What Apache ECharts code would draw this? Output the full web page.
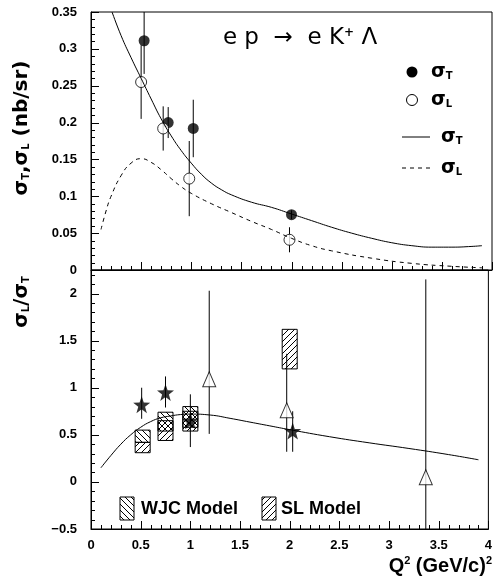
<!DOCTYPE html>
<html>
<head>
<meta charset="utf-8">
<script src="https://cdn.jsdelivr.net/npm/echarts@6/dist/echarts.min.js"></script>
<style>
  html, body { margin: 0; padding: 0; background: #fff; }
  #main { width: 495px; height: 586px; }
</style>
</head>
<body>
<div id="main"></div>
<script>
// top panel: sigma_T / sigma_L measurements (nb/sr)
var tQ = [0.53, 0.77, 1.02, 2.0];
var tVal = [0.311, 0.200, 0.192, 0.075];
var tErr = [0.045, 0.021, 0.039, 0.006];
var lQ = [0.50, 0.72, 0.98, 1.98];
var lVal = [0.255, 0.192, 0.124, 0.041];
var lErr = [0.050, 0.030, 0.051, 0.017];

// model curves, top panel
var curveTQ = [0.21, 0.3, 0.4, 0.5, 0.6, 0.7, 0.8, 0.9, 1.0, 1.1, 1.2, 1.3, 1.4, 1.6, 1.8, 2.0, 2.2, 2.4, 2.6, 2.8, 3.0, 3.2, 3.4, 3.6, 3.8, 3.9];
var curveT = [0.35, 0.318, 0.288, 0.260, 0.232, 0.205, 0.182, 0.162, 0.145, 0.130, 0.118, 0.109, 0.102, 0.092, 0.085, 0.076, 0.067, 0.058, 0.050, 0.043, 0.037, 0.033, 0.031, 0.031, 0.032, 0.033];
var curveLQ = [0.1, 0.15, 0.2, 0.3, 0.4, 0.5, 0.6, 0.7, 0.8, 0.9, 1.0, 1.2, 1.4, 1.6, 1.8, 2.0, 2.2, 2.4, 2.8, 3.2, 3.6, 3.9];
var curveL = [0.055, 0.080, 0.100, 0.128, 0.145, 0.151, 0.146, 0.136, 0.124, 0.113, 0.104, 0.090, 0.078, 0.066, 0.055, 0.043, 0.033, 0.026, 0.016, 0.009, 0.005, 0.003];

// bottom panel: ratio sigma_L / sigma_T
var starQ = [0.51, 0.75, 1.0, 2.03];
var starVal = [0.82, 0.95, 0.65, 0.54];
var starLo = [0.67, 0.79, 0.37, 0.32];
var starHi = [1.00, 1.12, 0.93, 0.75];
var triQ = [1.19, 1.97, 3.37];
var triVal = [1.09, 0.76, 0.05];
var triLo = [0.51, 0.32, -0.60];
var triHi = [2.03, 1.36, 2.15];
var wjcQ = [0.52, 0.75, 1.0];
var wjcLo = [0.42, 0.54, 0.58];
var wjcHi = [0.55, 0.74, 0.80];
var slQ = [0.52, 0.75, 1.0, 2.0];
var slLo = [0.31, 0.44, 0.54, 1.20];
var slHi = [0.42, 0.65, 0.75, 1.62];
var ratioQ = [0.1, 0.2, 0.3, 0.4, 0.5, 0.6, 0.7, 0.8, 0.9, 1.0, 1.2, 1.4, 1.6, 1.8, 2.0, 2.4, 2.8, 3.2, 3.6, 3.9];
var ratio = [0.15, 0.28, 0.40, 0.50, 0.58, 0.64, 0.68, 0.70, 0.715, 0.72, 0.71, 0.675, 0.635, 0.595, 0.555, 0.48, 0.415, 0.355, 0.29, 0.235];

// tick positions (every 5th one is a major tick)
var xTicks = [], yTopTicks = [], yBotTicks = [];
for (var i = 0; i <= 40; i++) xTicks.push(i / 10);
for (var j = 0; j <= 35; j++) yTopTicks.push(j / 100);
for (var k = 0; k <= 27; k++) yBotTicks.push(Math.round((-0.5 + k / 10) * 10) / 10);

var font = 'Liberation Sans';
var STAR = 'path://M0,-10L2.35,-3.24L9.51,-3.09L3.8,1.24L5.88,8.09L0,4L-5.88,8.09L-3.8,1.24L-9.51,-3.09L-2.35,-3.24Z';

function zip(a, b, c) {
  return a.map(function (v, i) { return c ? [v, b[i], c[i]] : [v, b[i]]; });
}

function hatch(slash) {
  var c = document.createElement('canvas');
  c.width = 6; c.height = 6;
  var g = c.getContext('2d');
  g.strokeStyle = '#000';
  g.lineWidth = 1;
  g.beginPath();
  if (slash) {
    g.moveTo(0, 6); g.lineTo(6, 0);
    g.moveTo(-1, 1); g.lineTo(1, -1);
    g.moveTo(5, 7); g.lineTo(7, 5);
  } else {
    g.moveTo(0, 0); g.lineTo(6, 6);
    g.moveTo(-1, 5); g.lineTo(1, 7);
    g.moveTo(5, -1); g.lineTo(7, 1);
  }
  g.stroke();
  return { image: c, repeat: 'repeat' };
}
var wjcFill = hatch(false);
var slFill = hatch(true);

function errBar(params, api) {
  var p1 = api.coord([api.value(0), api.value(1)]);
  var p2 = api.coord([api.value(0), api.value(2)]);
  return {
    type: 'line',
    shape: { x1: p1[0], y1: p1[1], x2: p2[0], y2: p2[1] },
    style: { stroke: '#000', lineWidth: 1 }
  };
}

function boxItem(fill) {
  return function (params, api) {
    var lo = api.coord([api.value(0), api.value(1)]);
    var hi = api.coord([api.value(0), api.value(2)]);
    return {
      type: 'rect',
      shape: { x: lo[0] - 7.5, y: hi[1], width: 15, height: lo[1] - hi[1] },
      style: { fill: fill, stroke: '#000', lineWidth: 1 }
    };
  };
}

// inward ticks along the x axis, placed with the axis scale
function xTick(base) {
  return function (params, api) {
    var p = api.coord([api.value(0), base]);
    var len = params.dataIndex % 5 === 0 ? 8 : 4;
    var x = Math.round(p[0]) + 0.5;
    return { type: 'line', shape: { x1: x, y1: p[1], x2: x, y2: p[1] - len }, style: { stroke: '#000', lineWidth: 1 } };
  };
}

// inward ticks along the y axis
function yTick(params, api) {
  var p = api.coord([0, api.value(1)]);
  var len = params.dataIndex % 5 === 0 ? 8 : 4;
  var y = Math.round(p[1]) + 0.5;
  return { type: 'line', shape: { x1: p[0], y1: y, x2: p[0] + len, y2: y }, style: { stroke: '#000', lineWidth: 1 } };
}

var lineStyle = { color: '#000', width: 1 };

function xAx(idx) {
  return {
    type: 'value', gridIndex: idx, min: 0, max: 4, interval: 0.5,
    axisLine: { show: true, onZero: false, lineStyle: lineStyle },
    axisTick: { show: false },
    minorTick: { show: false },
    splitLine: { show: false },
    axisLabel: { show: idx === 1, color: '#000', fontFamily: font, fontWeight: 'bold', fontSize: 13, margin: 10 }
  };
}

function yAx(idx, min, max, interval) {
  return {
    type: 'value', gridIndex: idx, min: min, max: max, interval: interval,
    axisLine: { show: true, onZero: false, lineStyle: lineStyle },
    axisTick: { show: false },
    minorTick: { show: false },
    splitLine: { show: false },
    axisLabel: {
      color: '#000', fontFamily: font, fontWeight: 'bold', fontSize: 13, margin: 14,
      showMaxLabel: idx === 0,
      formatter: function (v) { return String(v).replace('-', '\u2212'); }
    }
  };
}

var chart = echarts.init(document.getElementById('main'));

var sig = { fontFamily: 'DejaVu Sans', fontWeight: 'bold', fontSize: 19, fill: '#000' };
var sub = { fontFamily: 'DejaVu Sans', fontWeight: 'bold', fontSize: 10, padding: [9, 0, 0, 0] };

var option = {
  animation: false,
  backgroundColor: '#fff',
  grid: [
    { left: 91, right: 3, top: 12, height: 258, show: true, borderColor: '#000', borderWidth: 1 },
    { left: 91, right: 3, top: 270, height: 259, show: true, borderColor: '#000', borderWidth: 1 }
  ],
  xAxis: [xAx(0), xAx(1)],
  yAxis: [yAx(0, 0, 0.35, 0.05), yAx(1, -0.5, 2.25, 0.5)],
  series: [
    // axis ticks
    { type: 'custom', xAxisIndex: 0, yAxisIndex: 0, renderItem: xTick(0), data: xTicks.map(function (v) { return [v, 0]; }) },
    { type: 'custom', xAxisIndex: 1, yAxisIndex: 1, renderItem: xTick(-0.5), data: xTicks.map(function (v) { return [v, -0.5]; }) },
    { type: 'custom', xAxisIndex: 0, yAxisIndex: 0, renderItem: yTick, data: yTopTicks.map(function (v) { return [0, v]; }) },
    { type: 'custom', xAxisIndex: 1, yAxisIndex: 1, renderItem: yTick, data: yBotTicks.map(function (v) { return [0, v]; }) },

    // top panel
    { type: 'line', xAxisIndex: 0, yAxisIndex: 0, data: zip(curveTQ, curveT), smooth: true, showSymbol: false,
      lineStyle: { color: '#000', width: 1 } },
    { type: 'line', xAxisIndex: 0, yAxisIndex: 0, data: zip(curveLQ, curveL), smooth: true, showSymbol: false,
      lineStyle: { color: '#000', width: 1, type: [4, 4] } },
    { type: 'custom', xAxisIndex: 0, yAxisIndex: 0, clip: true, renderItem: errBar,
      data: tQ.map(function (q, i) { return [q, tVal[i] - tErr[i], tVal[i] + tErr[i]]; }) },
    { type: 'custom', xAxisIndex: 0, yAxisIndex: 0, clip: true, renderItem: errBar,
      data: lQ.map(function (q, i) { return [q, lVal[i] - lErr[i], lVal[i] + lErr[i]]; }) },
    { type: 'scatter', xAxisIndex: 0, yAxisIndex: 0, data: zip(tQ, tVal), symbol: 'circle', symbolSize: 11,
      itemStyle: { color: '#000' } },
    { type: 'scatter', xAxisIndex: 0, yAxisIndex: 0, data: zip(lQ, lVal), symbol: 'circle', symbolSize: 11,
      itemStyle: { color: '#fff', borderColor: '#000', borderWidth: 1 } },

    // bottom panel
    { type: 'line', xAxisIndex: 1, yAxisIndex: 1, data: zip(ratioQ, ratio), smooth: true, showSymbol: false,
      lineStyle: { color: '#000', width: 1 } },
    { type: 'custom', xAxisIndex: 1, yAxisIndex: 1, clip: true, renderItem: errBar,
      data: zip(starQ, starLo, starHi) },
    { type: 'custom', xAxisIndex: 1, yAxisIndex: 1, clip: true, renderItem: errBar,
      data: zip(triQ, triLo, triHi) },
    { type: 'custom', xAxisIndex: 1, yAxisIndex: 1, clip: true, renderItem: boxItem(wjcFill),
      data: zip(wjcQ, wjcLo, wjcHi) },
    { type: 'custom', xAxisIndex: 1, yAxisIndex: 1, clip: true, renderItem: boxItem(slFill),
      data: zip(slQ, slLo, slHi) },
    { type: 'scatter', xAxisIndex: 1, yAxisIndex: 1, data: zip(starQ, starVal), symbol: STAR, symbolSize: 17,
      itemStyle: { color: '#000' } },
    { type: 'scatter', xAxisIndex: 1, yAxisIndex: 1, data: zip(triQ, triVal), symbol: 'triangle', symbolSize: [13, 15],
      itemStyle: { color: '#fff', borderColor: '#000', borderWidth: 1 } }
  ],
  graphic: [
    // reaction
    { type: 'text', x: 300, y: 38, style: {
      text: '{m|e p  \u2192  e K}{p|+}{m| \u039b}', align: 'center', verticalAlign: 'middle',
      rich: {
        m: { fontFamily: 'DejaVu Sans', fontSize: 23, fill: '#000' },
        p: { fontFamily: 'DejaVu Sans', fontSize: 12, fontWeight: 'bold', padding: [0, 0, 10, 0] }
      } } },
    // top legend
    { type: 'circle', shape: { cx: 412, cy: 72, r: 5.5 }, style: { fill: '#000' } },
    { type: 'circle', shape: { cx: 412, cy: 100, r: 5.5 }, style: { fill: '#fff', stroke: '#000', lineWidth: 1 } },
    { type: 'line', shape: { x1: 402, y1: 137, x2: 430, y2: 137 }, style: { stroke: '#000', lineWidth: 1 } },
    { type: 'line', shape: { x1: 402, y1: 168, x2: 430, y2: 168 }, style: { stroke: '#000', lineWidth: 1, lineDash: [4, 4] } },
    { type: 'text', x: 431, y: 72, style: { text: '{s|\u03c3}{b|T}', verticalAlign: 'middle', rich: { s: sig, b: sub } } },
    { type: 'text', x: 431, y: 100, style: { text: '{s|\u03c3}{b|L}', verticalAlign: 'middle', rich: { s: sig, b: sub } } },
    { type: 'text', x: 441, y: 137, style: { text: '{s|\u03c3}{b|T}', verticalAlign: 'middle', rich: { s: sig, b: sub } } },
    { type: 'text', x: 441, y: 168, style: { text: '{s|\u03c3}{b|L}', verticalAlign: 'middle', rich: { s: sig, b: sub } } },
    // bottom legend
    { type: 'rect', shape: { x: 120, y: 497, width: 14, height: 23 }, style: { fill: wjcFill, stroke: '#000', lineWidth: 1 } },
    { type: 'text', x: 141, y: 509, style: { text: 'WJC Model', verticalAlign: 'middle', fontFamily: font, fontWeight: 'bold', fontSize: 18, fill: '#000' } },
    { type: 'rect', shape: { x: 262, y: 497, width: 14, height: 23 }, style: { fill: slFill, stroke: '#000', lineWidth: 1 } },
    { type: 'text', x: 281, y: 509, style: { text: 'SL Model', verticalAlign: 'middle', fontFamily: font, fontWeight: 'bold', fontSize: 18, fill: '#000' } },
    // axis titles
    { type: 'text', x: 22, y: 128, rotation: Math.PI / 2, style: {
      text: '{s|\u03c3}{b|T}{s|,\u03c3}{b|L}{s| (nb/sr)}', align: 'center', verticalAlign: 'middle',
      rich: { s: { fontFamily: 'DejaVu Sans', fontSize: 20, fontWeight: 'bold' }, b: sub } } },
    { type: 'text', x: 22, y: 302, rotation: Math.PI / 2, style: {
      text: '{s|\u03c3}{b|L}{s|/\u03c3}{b|T}', align: 'center', verticalAlign: 'middle',
      rich: { s: { fontFamily: 'DejaVu Sans', fontSize: 20, fontWeight: 'bold' }, b: sub } } },
    { type: 'text', x: 492, y: 566, style: {
      text: '{s|Q}{p|2}{s| (GeV/c)}{p|2}', align: 'right', verticalAlign: 'middle',
      rich: {
        s: { fontFamily: font, fontSize: 20, fontWeight: 'bold' },
        p: { fontFamily: font, fontSize: 11, fontWeight: 'bold', padding: [0, 0, 10, 0] }
      } } }
  ]
};

chart.setOption(option);
</script>
</body>
</html>
